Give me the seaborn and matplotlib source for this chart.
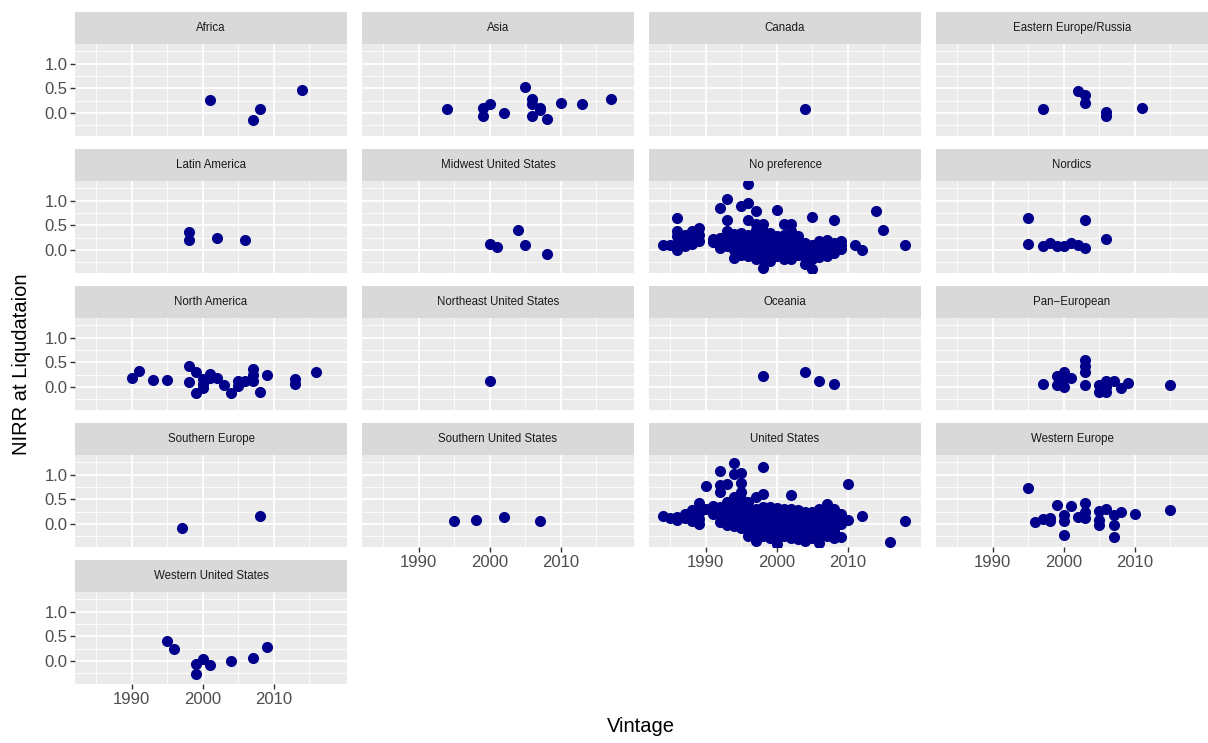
import matplotlib
matplotlib.use("Agg")
import matplotlib.pyplot as plt
import seaborn as sns
import pandas as pd

sns.set_theme(style="darkgrid")
plt.rcParams["font.family"] = ["Liberation Sans", "DejaVu Sans"]

# ---- data: (vintage, NIRR at liquidation) per geographic focus ----
africa = [(2001, 0.27), (2007, -0.14), (2008, 0.09), (2014, 0.47)]
asia = [(1994, 0.08), (1999, 0.11), (1999, -0.06), (2000, 0.18), (2002, -0.01),
        (2005, 0.53), (2006, 0.28), (2006, 0.18), (2007, 0.11), (2007, 0.06),
        (2006, -0.07), (2008, -0.13), (2010, 0.20), (2013, 0.18), (2017, 0.28)]
canada = [(2004, 0.08)]
eastern_europe = [(1997, 0.09), (2002, 0.44), (2003, 0.37), (2003, 0.21),
                  (2006, 0.01), (2006, -0.07), (2011, 0.10)]
latin_america = [(1998, 0.36), (1998, 0.21), (2002, 0.24), (2006, 0.21)]
midwest_us = [(2000, 0.12), (2001, 0.07), (2004, 0.41), (2005, 0.11), (2008, -0.08)]
no_preference = [
    (1984, 0.11), (1985, 0.10),
    (1986, 0.64), (1986, 0.39), (1986, 0.28), (1986, 0.00), (1986, 0.15),
    (1987, 0.22), (1987, 0.08), (1987, 0.30),
    (1988, 0.39), (1988, 0.22), (1988, 0.12),
    (1989, 0.45), (1989, 0.18), (1989, 0.30),
    (1991, 0.22), (1991, 0.16),
    (1992, 0.86), (1992, 0.15), (1992, 0.25), (1992, 0.05),
    (1993, 1.03), (1993, 0.60), (1993, 0.39), (1993, 0.18), (1993, 0.08), (1993, 0.28),
    (1994, 0.32), (1994, -0.16), (1994, 0.20), (1994, 0.10), (1994, 0.00), (1994, 0.25),
    (1995, 0.89), (1995, 0.15), (1995, 0.25), (1995, 0.05), (1995, -0.05), (1995, 0.35),
    (1995, -0.10),
    (1996, 1.34), (1996, 0.96), (1996, 0.60), (1996, -0.12), (1996, 0.20), (1996, 0.10),
    (1996, 0.00), (1996, 0.30),
    (1997, 0.79), (1997, 0.52), (1997, -0.19), (1997, 0.25), (1997, 0.12), (1997, 0.02),
    (1997, -0.08), (1997, 0.40),
    (1998, 0.52), (1998, 0.39), (1998, -0.36), (1998, 0.22), (1998, 0.10), (1998, 0.00),
    (1998, -0.10), (1998, -0.20),
    (1999, -0.22), (1999, 0.20), (1999, 0.08), (1999, -0.05), (1999, 0.15), (1999, 0.28),
    (1999, -0.15), (1999, 0.35),
    (2000, 0.80), (2000, 0.28), (2000, 0.15), (2000, 0.05), (2000, -0.05), (2000, 0.20),
    (2000, -0.12),
    (2001, 0.52), (2001, 0.22), (2001, 0.10), (2001, 0.00), (2001, -0.10), (2001, 0.30),
    (2001, -0.18),
    (2002, 0.53), (2002, -0.19), (2002, 0.25), (2002, 0.12), (2002, 0.02), (2002, -0.08),
    (2002, 0.38),
    (2003, 0.20), (2003, 0.10), (2003, 0.00), (2003, 0.15), (2003, -0.10), (2003, 0.28),
    (2004, -0.29), (2004, 0.12), (2004, 0.02), (2004, -0.08), (2004, 0.15), (2004, -0.15),
    (2005, 0.67), (2005, -0.39), (2005, 0.10), (2005, 0.00), (2005, -0.10), (2005, -0.18),
    (2006, 0.12), (2006, 0.02), (2006, -0.08), (2006, 0.08), (2006, -0.15), (2006, 0.18),
    (2007, 0.10), (2007, 0.00), (2007, -0.05), (2007, 0.15), (2007, -0.12), (2007, 0.20),
    (2008, 0.60), (2008, 0.10), (2008, 0.02), (2008, -0.06), (2008, 0.15),
    (2009, 0.18), (2009, 0.01), (2009, 0.10),
    (2011, 0.10), (2012, -0.01), (2014, 0.78), (2015, 0.40), (2018, 0.11),
]
nordics = [(1995, 0.64), (1995, 0.12), (1997, 0.09), (1998, 0.15), (1999, 0.09),
           (2000, 0.09), (2001, 0.15), (2002, 0.11), (2003, 0.04), (2003, 0.60),
           (2006, 0.23)]
north_america = [(1990, 0.18), (1991, 0.33), (1993, 0.15), (1995, 0.15), (1998, 0.43),
                 (1998, 0.11), (1999, 0.30), (1999, -0.13), (2000, 0.17), (2000, -0.03),
                 (2000, 0.07), (2001, 0.27), (2001, 0.18), (2002, 0.18), (2003, 0.05),
                 (2004, -0.13), (2005, 0.13), (2005, 0.03), (2006, 0.13), (2007, 0.37),
                 (2007, 0.25), (2007, 0.13), (2008, -0.10), (2009, 0.25), (2013, 0.17),
                 (2013, 0.07), (2016, 0.30)]
northeast_us = [(2000, 0.12)]
oceania = [(1998, 0.22), (2004, 0.30), (2006, 0.12), (2008, 0.06)]
pan_european = [(1997, 0.06), (1999, 0.22), (1999, 0.05), (2000, 0.31), (2000, 0.16),
                (2000, -0.01), (2001, 0.19), (2003, 0.55), (2003, 0.43), (2003, 0.31),
                (2003, 0.05), (2005, 0.05), (2005, -0.11), (2006, 0.12), (2006, -0.01),
                (2006, -0.11), (2007, 0.12), (2008, -0.03), (2009, 0.09), (2015, 0.05)]
southern_europe = [(1997, -0.08), (2008, 0.16)]
southern_us = [(1995, 0.06), (1998, 0.08), (2002, 0.14), (2007, 0.06)]
united_states = [
    (1984, 0.16), (1985, 0.12), (1986, 0.09), (1986, 0.15), (1987, 0.20), (1987, 0.12),
    (1988, 0.28), (1988, 0.07), (1988, 0.18),
    (1989, 0.43), (1989, 0.00), (1989, 0.22), (1989, 0.10),
    (1990, 0.76), (1990, 0.30), (1991, 0.37), (1991, 0.20),
    (1992, 1.08), (1992, 0.79), (1992, 0.64), (1992, 0.35), (1992, 0.18), (1992, 0.05),
    (1993, 0.81), (1993, 0.44), (1993, 0.25), (1993, 0.12), (1993, -0.02), (1993, 0.35),
    (1993, 0.18),
    (1994, 1.23), (1994, 1.01), (1994, 0.55), (1994, 0.30), (1994, 0.18), (1994, 0.08),
    (1994, -0.05), (1994, 0.40), (1994, 0.25), (1994, 0.12),
    (1995, 1.03), (1995, 0.82), (1995, 0.65), (1995, 0.50), (1995, 0.30), (1995, 0.20),
    (1995, 0.10), (1995, 0.02), (1995, -0.08), (1995, 0.38),
    (1996, 0.35), (1996, 0.25), (1996, 0.15), (1996, 0.05), (1996, -0.05), (1996, -0.15),
    (1996, 0.45), (1996, 0.12), (1996, 0.20), (1996, -0.25), (1996, 0.32),
    (1997, 0.55), (1997, -0.34), (1997, 0.30), (1997, 0.20), (1997, 0.10), (1997, 0.00),
    (1997, -0.10), (1997, -0.20), (1997, 0.15), (1997, 0.25), (1997, -0.28),
    (1998, 1.16), (1998, 0.60), (1998, 0.35), (1998, 0.22), (1998, 0.12), (1998, 0.02),
    (1998, -0.08), (1998, -0.18), (1998, -0.25), (1998, 0.28), (1998, 0.05),
    (1999, 0.30), (1999, 0.20), (1999, 0.10), (1999, 0.00), (1999, -0.10), (1999, -0.20),
    (1999, 0.15), (1999, -0.05), (1999, 0.25), (1999, -0.28), (1999, 0.35),
    (2000, -0.40), (2000, 0.28), (2000, 0.18), (2000, 0.08), (2000, -0.02), (2000, -0.12),
    (2000, -0.22), (2000, 0.12), (2000, 0.02), (2000, -0.15), (2000, 0.33), (2000, -0.30),
    (2001, 0.25), (2001, 0.15), (2001, 0.05), (2001, -0.05), (2001, -0.15), (2001, -0.25),
    (2001, 0.10), (2001, 0.00), (2001, 0.20), (2001, 0.30),
    (2002, 0.58), (2002, 0.22), (2002, 0.12), (2002, 0.02), (2002, -0.08), (2002, -0.18),
    (2002, 0.08), (2002, -0.02), (2002, 0.30), (2002, -0.28),
    (2003, 0.28), (2003, 0.15), (2003, 0.05), (2003, -0.05), (2003, -0.15), (2003, -0.25),
    (2003, 0.10), (2003, 0.00), (2003, -0.30),
    (2004, -0.34), (2004, 0.20), (2004, 0.10), (2004, 0.00), (2004, -0.10), (2004, -0.20),
    (2004, 0.05), (2004, 0.25), (2004, -0.25),
    (2005, 0.20), (2005, 0.10), (2005, 0.00), (2005, -0.10), (2005, -0.20), (2005, 0.15),
    (2005, 0.05), (2005, 0.25), (2005, -0.28),
    (2006, -0.38), (2006, 0.30), (2006, 0.18), (2006, 0.08), (2006, -0.02), (2006, -0.12),
    (2006, -0.22), (2006, 0.12), (2006, 0.25),
    (2007, 0.41), (2007, 0.28), (2007, 0.15), (2007, 0.05), (2007, -0.05), (2007, -0.18),
    (2007, 0.22), (2007, -0.10), (2007, 0.35), (2007, -0.25),
    (2008, 0.30), (2008, 0.18), (2008, 0.08), (2008, -0.02), (2008, -0.12), (2008, 0.12),
    (2008, -0.20), (2008, 0.25), (2008, -0.28),
    (2009, -0.27), (2009, 0.10), (2009, 0.00), (2009, 0.20),
    (2010, 0.81), (2010, 0.08), (2012, 0.16), (2016, -0.36), (2018, 0.06),
]
western_europe = [(1995, 0.72), (1996, 0.05), (1997, 0.11), (1998, 0.13), (1998, 0.07),
                  (1999, 0.39), (2000, 0.18), (2000, 0.06), (2000, -0.22), (2001, 0.36),
                  (2002, 0.14), (2003, 0.43), (2003, 0.25), (2003, 0.13), (2005, 0.26),
                  (2005, 0.09), (2005, -0.02), (2006, 0.30), (2007, 0.18), (2007, -0.02),
                  (2007, -0.26), (2008, 0.25), (2010, 0.20), (2015, 0.28)]
western_us = [(1995, 0.41), (1996, 0.24), (1999, -0.07), (1999, -0.26), (2000, 0.05),
              (2001, -0.09), (2004, 0.00), (2007, 0.07), (2009, 0.28)]

regions = ["Africa", "Asia", "Canada", "Eastern Europe/Russia",
           "Latin America", "Midwest United States", "No preference", "Nordics",
           "North America", "Northeast United States", "Oceania", "Pan\u2212European",
           "Southern Europe", "Southern United States", "United States", "Western Europe",
           "Western United States"]
region_points = [africa, asia, canada, eastern_europe, latin_america, midwest_us,
                 no_preference, nordics, north_america, northeast_us, oceania,
                 pan_european, southern_europe, southern_us, united_states,
                 western_europe, western_us]

x_ticks = [1990, 2000, 2010]
x_minor = [1985, 1995, 2005, 2015]
y_ticks = [0.0, 0.5, 1.0]
y_tick_labels = ["0.0", "0.5", "1.0"]
y_minor = [-0.25, 0.25, 0.75, 1.25]

df = pd.DataFrame(
    [(r, v, n) for r, pts in zip(regions, region_points) for v, n in pts],
    columns=["region", "vintage", "nirr"],
)

# ---- layout (pixel geometry of a 4-column facet wrap) ----
W, H = 1208, 743
fig = plt.figure(figsize=(W / 100, H / 100), dpi=100)
fig.patch.set_facecolor("white")

col_left = [75, 362, 649, 936]
panel_w = 272
row_strip_top = [12, 149, 286, 423, 560]
strip_h = 32
panel_h = 92

xlim = (1982.0, 2020.3)
ylim = (-0.466, 1.397)
n_cols = 4
n = len(regions)

def px_axes(left, top, width, height):
    return fig.add_axes([left / W, 1 - (top + height) / H, width / W, height / H])

for i, region in enumerate(regions):
    r, c = divmod(i, n_cols)
    left = col_left[c]
    top = row_strip_top[r]

    # strip
    sax = px_axes(left, top, panel_w, strip_h)
    sax.set_facecolor("#D9D9D9")
    sax.set_xticks([]); sax.set_yticks([])
    for s in sax.spines.values():
        s.set_visible(False)
    sax.text(0.5, 0.5, region, ha="center", va="center", fontsize=8.3,
             color="#1A1A1A", transform=sax.transAxes)

    # panel
    ax = px_axes(left, top + strip_h, panel_w, panel_h)
    ax.set_facecolor("#EBEBEB")
    sub = df[df["region"] == region]
    sns.scatterplot(data=sub, x="vintage", y="nirr", ax=ax, color="#00008B",
                    s=64, linewidth=0, legend=False, zorder=3)
    ax.set_xlim(xlim); ax.set_ylim(ylim)
    ax.set_xticks(x_ticks); ax.set_xticks(x_minor, minor=True)
    ax.set_yticks(y_ticks); ax.set_yticks(y_minor, minor=True)
    ax.grid(which="major", color="white", linewidth=1.3)
    ax.grid(which="minor", color="white", linewidth=0.6)
    ax.set_axisbelow(True)
    for s in ax.spines.values():
        s.set_visible(False)
    ax.set_xlabel(""); ax.set_ylabel("")

    bottom_of_col = (i + n_cols >= n)
    first_col = (c == 0)
    ax.tick_params(which="minor", length=0)
    ax.tick_params(axis="x", which="major", length=3.5, width=1.0, color="#333333",
                   labelsize=12, labelcolor="#4D4D4D", pad=2,
                   bottom=bottom_of_col, labelbottom=bottom_of_col)
    ax.tick_params(axis="y", which="major", length=3.5, width=1.0, color="#333333",
                   labelsize=12, labelcolor="#4D4D4D", pad=2,
                   left=first_col, labelleft=first_col)
    if first_col:
        ax.set_yticklabels(y_tick_labels)
    if bottom_of_col:
        ax.set_xticklabels([str(t) for t in x_ticks])

fig.text(641 / W, 1 - 727 / H, "Vintage", ha="center", va="center", fontsize=14.5,
         color="black")
fig.text(22 / W, 1 - 364 / H, "NIRR at Liqudataion", ha="center", va="center",
         rotation=90, fontsize=14.5, color="black")

fig.savefig("out.png", dpi=100, facecolor="white")
